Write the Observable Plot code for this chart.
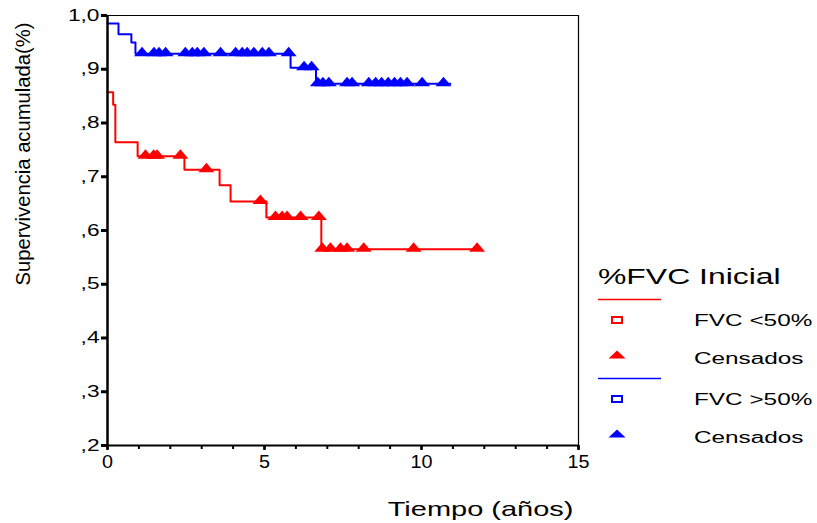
<!DOCTYPE html>
<html>
<head>
<meta charset="utf-8">
<script src="https://cdn.jsdelivr.net/npm/d3@7"></script>
<script src="https://cdn.jsdelivr.net/npm/@observablehq/plot@0.6"></script>
<style>
  body { margin: 0; background: #fff; }
  #wrap { position: relative; width: 817px; height: 523px; font-family: "Liberation Sans", Arial, sans-serif; }
  #chart { position: absolute; left: 0; top: 0; }
  #legend { position: absolute; left: 590px; top: 0; }
</style>
</head>
<body>
<div id="wrap">
  <div id="chart"></div>
  <svg id="legend" width="227" height="523"></svg>
</div>
<script>
// Kaplan–Meier survival by baseline %FVC group
const yTitle = "Supervivencia acumulada(%)";
const xTitle = "Tiempo (años)";

const yTicks = [0.2, 0.3, 0.4, 0.5, 0.6, 0.7, 0.8, 0.9, 1.0];
const yTickLabels = [",2", ",3", ",4", ",5", ",6", ",7", ",8", ",9", "1,0"];
const xTicks = [0, 5, 10, 15];
const xTickLabels = ["0", "5", "10", "15"];
const xMinorTicks = [0, 1, 2, 3, 4, 5, 6, 7, 8, 9, 10, 11, 12, 13, 14, 15];

// FVC <50%: event times (years) and survival after each event
const lowTimes = [0, 0.18, 0.25, 0.96, 2.45, 3.57, 3.92, 5.06, 6.81];
const lowSurv = [0.857, 0.834, 0.764, 0.738, 0.713, 0.684, 0.654, 0.624, 0.565];
const lowEnd = 11.9;
const lowCensored = [1.21, 1.47, 1.58, 2.32, 3.15, 4.87, 5.35, 5.56, 5.72, 6.15, 6.73,
                     6.84, 7.10, 7.42, 7.63, 8.16, 9.75, 11.77];

// FVC >50%
const highTimes = [0, 0.35, 0.76, 0.89, 5.83, 6.64];
const highSurv = [0.985, 0.965, 0.950, 0.929, 0.903, 0.873];
const highEnd = 10.92;
const highCensored = [1.10, 1.48, 1.64, 1.85, 2.48, 2.70, 2.86, 3.07, 3.60, 4.08, 4.29, 4.45,
                      4.66, 4.93, 5.14, 5.77, 6.26, 6.50, 6.70, 6.86, 7.05, 7.63, 7.79, 8.32,
                      8.54, 8.73, 8.94, 9.14, 9.33, 9.54, 10.02, 10.70];

const legendTitle = "%FVC Inicial";
const groups = [
  { label: "FVC <50%", censLabel: "Censados", color: "#ff0000" },
  { label: "FVC >50%", censLabel: "Censados", color: "#0000ff" }
];

const RED = groups[0].color, BLUE = groups[1].color;

const steps = (times, surv, end) =>
  times.map((t, i) => ({ t, s: surv[i] })).concat([{ t: end, s: surv[surv.length - 1] }]);
const levelAt = (times, surv, t) => {
  let s = surv[0];
  times.forEach((u, i) => { if (u <= t) s = surv[i]; });
  return s;
};

// flat triangle drawn with its base on the curve
const flatTriangle = {
  draw(ctx) {
    ctx.moveTo(-8, 2.5);
    ctx.lineTo(0, -7);
    ctx.lineTo(8, 2.5);
    ctx.closePath();
  }
};

const labelOf = (ticks, labels) => d => {
  const i = ticks.findIndex(v => Math.abs(v - d) < 1e-9);
  return i < 0 ? "" : labels[i];
};

const chart = Plot.plot({
  width: 590,
  height: 523,
  marginLeft: 107,
  marginRight: 12,
  marginTop: 15,
  marginBottom: 78,
  style: { fontFamily: "'Liberation Sans', Arial, sans-serif", fontSize: "16px", color: "#000", background: "#fff", overflow: "visible" },
  x: { domain: [0, 15] },
  y: { domain: [0.2, 1.0] },
  marks: [
    Plot.ruleY([1.0], { stroke: "#000", strokeWidth: 1.2 }),
    Plot.ruleX([15], { stroke: "#000", strokeWidth: 1.2 }),
    Plot.line(steps(lowTimes, lowSurv, lowEnd), { x: "t", y: "s", curve: "step-after", stroke: RED, strokeWidth: 2 }),
    Plot.line(steps(highTimes, highSurv, highEnd), { x: "t", y: "s", curve: "step-after", stroke: BLUE, strokeWidth: 2 }),
    Plot.dot(lowCensored, { x: d => d, y: d => levelAt(lowTimes, lowSurv, d), symbol: flatTriangle, fill: RED, stroke: "none", r: 4 }),
    Plot.dot(highCensored, { x: d => d, y: d => levelAt(highTimes, highSurv, d), symbol: flatTriangle, fill: BLUE, stroke: "none", r: 4 }),
    Plot.axisY({ ticks: yTicks, tickFormat: labelOf(yTicks, yTickLabels), tickSize: 6, tickPadding: 2, strokeWidth: 3, label: null, fontSize: 16 }),
    Plot.axisX({ ticks: xMinorTicks, tickFormat: () => "", tickSize: 4, strokeWidth: 2, label: null }),
    Plot.axisX({ ticks: xTicks, tickFormat: labelOf(xTicks, xTickLabels), tickSize: 5, tickPadding: 5, strokeWidth: 2.5, label: null, fontSize: 18 }),
    Plot.ruleX([0], { stroke: "#000", strokeWidth: 2.5 }),
    Plot.ruleY([0.2], { stroke: "#000", strokeWidth: 2 }),
    Plot.text([yTitle], { text: d => d, frameAnchor: "top-left", rotate: -90, textAnchor: "end", lineAnchor: "middle", dx: -84, dy: 7, fontSize: 21, className: "ytitle" }),
    Plot.text([xTitle], { text: d => d, frameAnchor: "bottom-right", textAnchor: "end", lineAnchor: "bottom", dx: -5, dy: 70, fontSize: 21, className: "xtitle" })
  ]
});

document.getElementById("chart").appendChild(chart);

// wide glyphs of the exported chart fonts
function stretch(nodes, factor) {
  nodes.forEach(t => {
    const w = t.getComputedTextLength();
    t.setAttribute("textLength", (w * factor).toFixed(1));
    t.setAttribute("lengthAdjust", "spacingAndGlyphs");
  });
}
function fitTo(nodes, length) {
  nodes.forEach(t => {
    t.setAttribute("textLength", length);
    t.setAttribute("lengthAdjust", "spacingAndGlyphs");
  });
}
stretch(chart.querySelectorAll('g[aria-label="y-axis tick label"] text'), 1.42);
stretch(chart.querySelectorAll('g[aria-label="x-axis tick label"] text'), 1.1);
stretch(chart.querySelectorAll('.xtitle text'), 1.38);
fitTo(chart.querySelectorAll('.ytitle text'), 263);

// legend
const lg = d3.select("#legend").style("font-family", "'Liberation Sans', Arial, sans-serif");
const title = lg.append("text").attr("x", 8).attr("y", 284).attr("font-size", 22).text(legendTitle);
const rows = [
  { y0: 299.5 },
  { y0: 378.5 }
];
groups.forEach((g, i) => {
  const y0 = rows[i].y0;
  lg.append("line").attr("x1", 8).attr("x2", 71).attr("y1", y0).attr("y2", y0)
    .attr("stroke", g.color).attr("stroke-width", 1.5);
  lg.append("rect").attr("x", 22).attr("y", y0 + 17.5).attr("width", 10).attr("height", 6)
    .attr("fill", "none").attr("stroke", g.color).attr("stroke-width", 2);
  lg.append("text").attr("x", 104).attr("y", y0 + 26.5).attr("font-size", 16).text(g.label);
  lg.append("path").attr("transform", `translate(27,${y0 + 58})`)
    .attr("d", "M-8.5,1L0,-7L8.5,1Z").attr("fill", g.color);
  lg.append("text").attr("x", 104).attr("y", y0 + 64.5).attr("font-size", 16).text(g.censLabel);
});
stretch([title.node()], 1.45);
stretch(lg.selectAll("text").filter((d, i) => i > 0).nodes(), 1.52);
</script>
</body>
</html>
